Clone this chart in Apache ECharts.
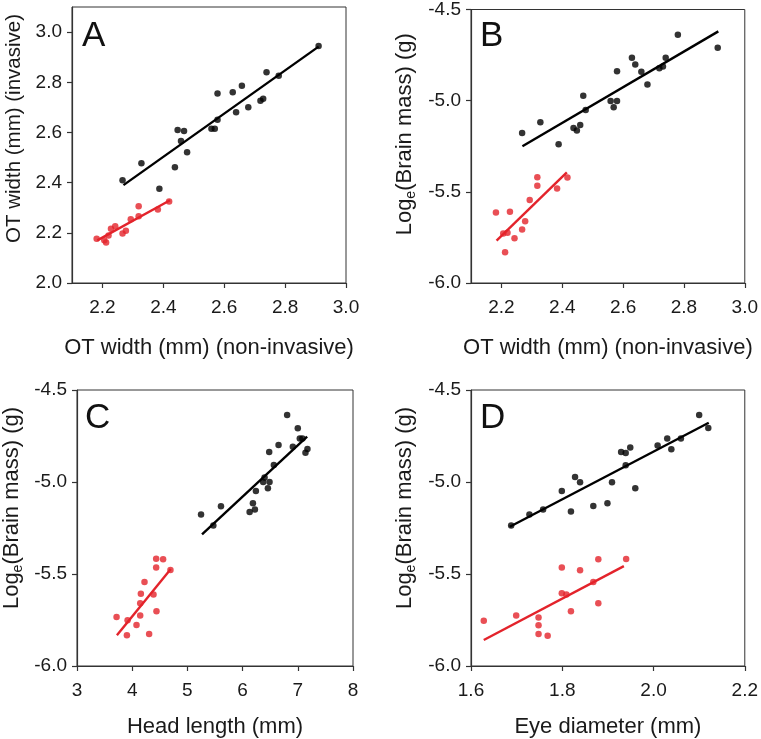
<!DOCTYPE html>
<html>
<head>
<meta charset="utf-8">
<script src="https://cdn.jsdelivr.net/npm/echarts@6/dist/echarts.min.js"></script>
<style>
html,body{margin:0;padding:0;background:#fff;}
#chart{width:761px;height:739px;}
</style>
</head>
<body>
<div id="chart"></div>
<script>
// ---- Panel A: OT width invasive vs non-invasive ----
var aBlackX = [2.266,2.328,2.387,2.438,2.447,2.468,2.458,2.478,2.558,2.569,2.578,2.578,2.628,2.639,2.658,2.679,2.719,2.728,2.739,2.779,2.910];
var aBlackY = [2.410,2.477,2.376,2.461,2.610,2.606,2.566,2.521,2.615,2.615,2.651,2.755,2.760,2.681,2.786,2.700,2.726,2.734,2.840,2.826,2.945];
var aRedX = [2.181,2.206,2.212,2.220,2.228,2.242,2.266,2.277,2.293,2.319,2.319,2.382,2.419];
var aRedY = [2.176,2.170,2.161,2.189,2.216,2.226,2.197,2.208,2.254,2.266,2.306,2.293,2.325];
var aBlackFitX = [2.269,2.910], aBlackFitY = [2.390,2.942];
var aRedFitX = [2.183,2.422], aRedFitY = [2.170,2.330];

// ---- Panel B: Log brain mass vs OT width ----
var bBlackX = [2.268,2.328,2.388,2.437,2.448,2.459,2.469,2.477,2.559,2.569,2.580,2.580,2.629,2.640,2.660,2.680,2.719,2.731,2.740,2.780,2.911];
var bBlackY = [-5.178,-5.118,-5.239,-5.150,-5.163,-5.134,-4.973,-5.051,-5.002,-5.036,-5.002,-4.839,-4.764,-4.801,-4.842,-4.911,-4.822,-4.812,-4.764,-4.638,-4.710];
var bRedX = [2.182,2.206,2.212,2.220,2.228,2.243,2.268,2.278,2.293,2.318,2.318,2.383,2.417];
var bRedY = [-5.614,-5.728,-5.832,-5.725,-5.609,-5.755,-5.707,-5.661,-5.545,-5.466,-5.420,-5.482,-5.422];
var bBlackFitX = [2.269,2.913], bBlackFitY = [-5.250,-4.620];
var bRedFitX = [2.184,2.415], bRedFitY = [-5.768,-5.393];

// ---- Panel C: Log brain mass vs head length ----
var cBlackX = [5.247,5.470,5.608,6.127,6.187,6.223,6.241,6.373,6.398,6.458,6.488,6.482,6.566,6.651,6.807,6.910,7.000,7.036,7.084,7.139,7.175];
var cBlackY = [-5.176,-5.236,-5.132,-5.163,-5.116,-5.150,-5.049,-5.000,-4.975,-5.034,-5.000,-4.837,-4.908,-4.799,-4.636,-4.808,-4.708,-4.763,-4.763,-4.841,-4.821];
var cRedX = [3.717,3.904,3.916,4.078,4.145,4.145,4.157,4.223,4.307,4.386,4.440,4.434,4.434,4.560,4.693];
var cRedY = [-5.734,-5.833,-5.752,-5.777,-5.726,-5.659,-5.607,-5.543,-5.826,-5.612,-5.703,-5.464,-5.417,-5.420,-5.478];
var cBlackFitX = [5.265,7.169], cBlackFitY = [-5.284,-4.754];
var cRedFitX = [3.723,4.699], cRedFitY = [-5.833,-5.473];

// ---- Panel D: Log brain mass vs eye diameter ----
var dBlackX = [1.688,1.728,1.758,1.799,1.819,1.828,1.839,1.868,1.899,1.909,1.929,1.939,1.939,1.949,1.960,2.009,2.030,2.039,2.060,2.100,2.120];
var dBlackY = [-5.236,-5.176,-5.149,-5.049,-5.161,-4.973,-5.002,-5.130,-5.116,-5.002,-4.837,-4.842,-4.909,-4.812,-5.034,-4.801,-4.763,-4.822,-4.763,-4.636,-4.707];
var dRedX = [1.628,1.699,1.748,1.748,1.748,1.768,1.799,1.799,1.809,1.819,1.839,1.868,1.879,1.879,1.940];
var dRedY = [-5.754,-5.726,-5.736,-5.779,-5.826,-5.835,-5.464,-5.605,-5.611,-5.703,-5.480,-5.543,-5.420,-5.659,-5.418];
var dBlackFitX = [1.685,2.121], dBlackFitY = [-5.243,-4.678];
var dRedFitX = [1.628,1.935], dRedFitY = [-5.859,-5.457];

// ---- tick labels and texts ----
var otTicks = [2.2,2.4,2.6,2.8,3.0];
var aYTicks = [2.0,2.2,2.4,2.6,2.8,3.0];
var panelLetters = ['A','B','C','D'];
var xNames = ['OT width (mm) (non-invasive)','OT width (mm) (non-invasive)','Head length (mm)','Eye diameter (mm)'];
var yNameA = 'OT width (mm) (invasive)';

function zip(xs, ys){ return xs.map(function(x,i){ return [x, ys[i]]; }); }

var FONT = '"Liberation Sans", Arial, Helvetica, sans-serif';
var BLACK = '#000000';
var RED = '#e3232b';
var AX = '#333333';
var TXT = '#1a1a1a';
var TICKFS = 19;
var NAMEFS = 22;

var grids = [
  {left:72, top:7, width:274, height:276},
  {left:471, top:7, width:276, height:276},
  {left:76, top:390, width:277, height:276},
  {left:471, top:390, width:276, height:276}
];
grids.forEach(function(g){ g.show = true; g.borderColor = AX; g.borderWidth = 1; g.backgroundColor = 'transparent'; });

var logName = '{n|Log}{s|e}{n|(Brain mass) (g)}';
var nameRich = {
  n: {fontSize: NAMEFS, fontFamily: FONT, color: TXT, lineHeight: 26},
  s: {fontSize: 14, fontFamily: FONT, color: TXT, lineHeight: 12, verticalAlign: 'bottom'}
};

function merge(o, extra){
  for (var k in extra) {
    if (typeof extra[k] === 'object' && !Array.isArray(extra[k]) && o[k]) { for (var kk in extra[k]) o[k][kk] = extra[k][kk]; }
    else o[k] = extra[k];
  }
  return o;
}
function baseX(i, min, max, gap, extra){
  var o = {
    type:'value', gridIndex:i, min:min, max:max,
    name: xNames[i], nameLocation:'middle', nameGap: gap,
    nameTextStyle:{fontSize:NAMEFS, fontFamily:FONT, color:TXT},
    axisLine:{show:true, lineStyle:{color:AX, width:1.2}},
    axisTick:{show:true, inside:false, length:5, lineStyle:{color:AX, width:1.2}},
    axisLabel:{fontSize:TICKFS, fontFamily:FONT, color:TXT, margin:15},
    splitLine:{show:false}
  };
  return merge(o, extra);
}
function baseY(i, min, max, name, gap, shift, fs, extra){
  var o = {
    type:'value', gridIndex:i, min:min, max:max,
    name: name, nameLocation:'middle', nameGap: gap,
    nameTextStyle:{fontSize:fs, fontFamily:FONT, color:TXT, rich: nameRich, padding:[0,0,0,shift]},
    axisLine:{show:true, lineStyle:{color:AX, width:1.2}},
    axisTick:{show:true, inside:false, length:5, lineStyle:{color:AX, width:1.2}},
    axisLabel:{fontSize:TICKFS, fontFamily:FONT, color:TXT, margin:10, formatter:function(v){ return (+v).toFixed(1); }},
    splitLine:{show:false}
  };
  return merge(o, extra);
}

var fmt1 = function(v){ return (+v).toFixed(1); };

var xAxes = [
  baseX(0, 2.1, 3.0, 54, {axisLabel:{customValues: otTicks, formatter: fmt1}, axisTick:{customValues: otTicks}}),
  baseX(1, 2.1, 3.0, 54, {axisLabel:{customValues: otTicks, formatter: fmt1}, axisTick:{customValues: otTicks}}),
  baseX(2, 3, 8, 50, {interval:1}),
  baseX(3, 1.6, 2.2, 50, {interval:0.2, axisLabel:{formatter: fmt1}})
];
var yAxes = [
  baseY(0, 2.0, 3.1, yNameA, 47, 33, 20.5, {axisLabel:{customValues: aYTicks}, axisTick:{customValues: aYTicks}}),
  baseY(1, -6.0, -4.5, logName, 53, 24, NAMEFS, {interval:0.5}),
  baseY(2, -6.0, -4.5, logName, 52, 40, NAMEFS, {interval:0.5}),
  baseY(3, -6.0, -4.5, logName, 53, 40, NAMEFS, {interval:0.5})
];

function scatter(i, xs, ys, color){
  return {type:'scatter', xAxisIndex:i, yAxisIndex:i, data: zip(xs, ys), symbolSize:6.5,
          itemStyle:{color:color}, z:3, silent:true};
}
function fit(i, xs, ys, color){
  return {type:'line', xAxisIndex:i, yAxisIndex:i, data: zip(xs, ys), showSymbol:false, symbol:'none',
          lineStyle:{color:color, width:2.4}, z:2, silent:true, animation:false};
}

var series = [
  scatter(0, aBlackX, aBlackY, BLACK), scatter(0, aRedX, aRedY, RED),
  fit(0, aBlackFitX, aBlackFitY, BLACK), fit(0, aRedFitX, aRedFitY, RED),
  scatter(1, bBlackX, bBlackY, BLACK), scatter(1, bRedX, bRedY, RED),
  fit(1, bBlackFitX, bBlackFitY, BLACK), fit(1, bRedFitX, bRedFitY, RED),
  scatter(2, cBlackX, cBlackY, BLACK), scatter(2, cRedX, cRedY, RED),
  fit(2, cBlackFitX, cBlackFitY, BLACK), fit(2, cRedFitX, cRedFitY, RED),
  scatter(3, dBlackX, dBlackY, BLACK), scatter(3, dRedX, dRedY, RED),
  fit(3, dBlackFitX, dBlackFitY, BLACK), fit(3, dRedFitX, dRedFitY, RED)
];

var letterPos = [[82,19],[480,19],[85,401],[480,401]];
var titles = panelLetters.map(function(t,i){
  return {text:t, left:letterPos[i][0], top:letterPos[i][1], padding:0,
          textStyle:{fontSize:35, fontWeight:'normal', fontFamily:FONT, color:'#111'}};
});

var chart = echarts.init(document.getElementById('chart'), null, {renderer:'canvas'});
chart.setOption({
  animation:false,
  backgroundColor:'#ffffff',
  title: titles,
  grid: grids,
  xAxis: xAxes,
  yAxis: yAxes,
  series: series
});
</script>
</body>
</html>
